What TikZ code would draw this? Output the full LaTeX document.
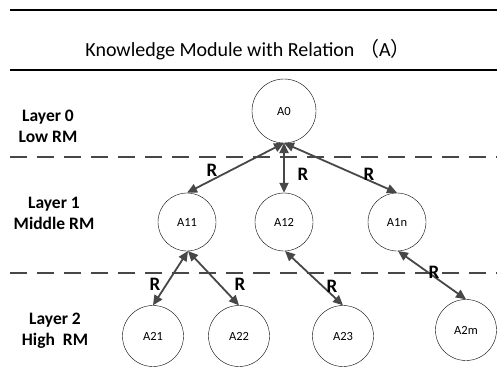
\documentclass[tikz,border=0pt]{standalone}
\usepackage{fontspec}
\setmainfont{Carlito}
\newfontfamily\cjk{Noto Sans CJK SC}
\usetikzlibrary{arrows.meta}
\begin{document}
\begin{tikzpicture}[x=1pt,y=-1pt,
  mod/.style={circle,draw,thin,minimum size=#1,inner sep=0pt,font=\fontsize{12.5}{14}\selectfont},
  rel/.style={{Triangle[length=10pt,width=9pt]}-{Triangle[length=10pt,width=9pt]},line width=1.8pt,draw=black!72,fill=black!72},
  rlab/.style={font=\bfseries\fontsize{19}{20}\selectfont},
  layer/.style={font=\bfseries\fontsize{17.5}{21}\selectfont,align=center},
  sep/.style={line width=1.8pt,draw=black!72,dash pattern=on 17pt off 10pt}]
\useasboundingbox (0,0) rectangle (497,369);
\draw[line width=1.3pt] (10,10) -- (497,10);
\draw[line width=1.3pt] (10,70) -- (497,70);
\node (title) at (248,50) {\fontsize{20}{22}\selectfont Knowledge Module with Relation {\cjk （}A{\cjk ）}};
\draw[sep] (10,157) -- (497,157);
\draw[sep] (10,273) -- (497,273);
\node[layer] (l0) at (48,126) {Layer 0\\Low RM};
\node[layer] (l1) at (54,213) {Layer 1\\Middle RM};
\node[layer] (l2) at (55,331) {Layer 2\\High~ RM};
\node[mod=64pt] (A0) at (284,111) {A0};
\node[mod=58pt] (A11) at (187,222) {A11};
\node[mod=58pt] (A12) at (284,222) {A12};
\node[mod=58pt] (A1n) at (397,222) {A1n};
\node[mod=61pt] (A21) at (153,336) {A21};
\node[mod=61pt] (A22) at (239,336) {A22};
\node[mod=61pt] (A23) at (343,336) {A23};
\node[mod=61pt] (A2m) at (466,330) {A2m};
\coordinate (c0) at (284,143);
\coordinate (c11) at (188,251);
\coordinate (c12) at (285,251);
\coordinate (c1n) at (398,251);
\draw[rel] (c0) -- (A11.north);
\draw[rel] (c0) -- (A12.north);
\draw[rel] (c0) -- (A1n.north);
\draw[rel] (c11) -- (A21.north);
\draw[rel] (c11) -- (A22.north);
\draw[rel] (c12) -- (A23.north);
\draw[rel] (c1n) -- (A2m.north);
\node[rlab] (r1) at (212,170) {R};
\node[rlab] (r2) at (303,174) {R};
\node[rlab] (r3) at (369,174) {R};
\node[rlab] (r4) at (155,284) {R};
\node[rlab] (r5) at (240,284) {R};
\node[rlab] (r6) at (332,286) {R};
\node[rlab] (r7) at (434,272) {R};
\end{tikzpicture}
\end{document}
